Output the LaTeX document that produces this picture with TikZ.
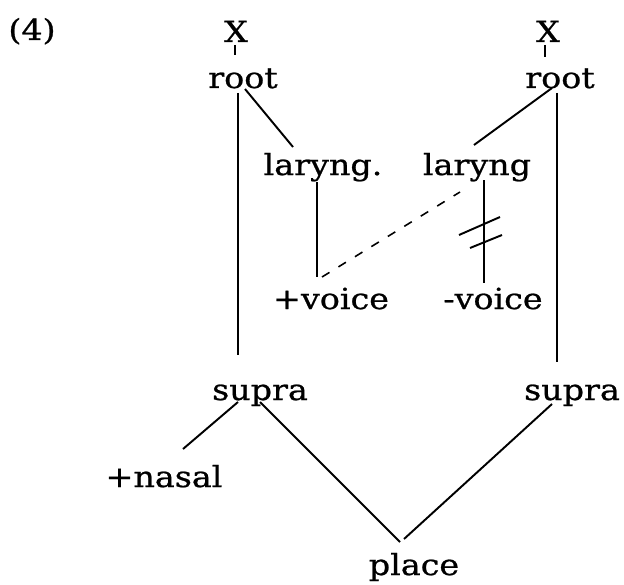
\documentclass[tikz,border=0pt]{standalone}
\usepackage{fontspec}
\setmainfont[FakeStretch=1.15,FakeBold=0.8]{DejaVu Serif}
\usetikzlibrary{calc}

\begin{document}
\begin{tikzpicture}[x=0.02cm, y=-0.02cm, line width=1pt, every node/.style={font=\fontsize{16.5}{20}\selectfont, inner sep=0pt, anchor=base}]
\tikzstyle{assoc}=[line width=1.1pt]
\tikzstyle{spread}=[line width=0.9pt, dash pattern=on 5pt off 6pt]
\useasboundingbox (0,0) rectangle (624,584);
% segments
\node (num) at (32,40) {(4)};
\node (xl) at (236,42) {X};
\node (xr) at (548,42) {X};
\node (rootl) at (243,88) {root};
\node (rootr) at (560,88) {root};
\node (laryl) at (323,175) {laryng.};
\node (laryr) at (477,175) {laryng};
\node (voicep) at (331,309) {+voice};
\node (voicem) at (493,309) {-voice};
\node (supral) at (260,400) {supra};
\node (suprar) at (572,400) {supra};
\node (nasal) at (164,487) {+nasal};
\node (place) at (414,575) {place};

\draw[assoc] ($(xl.base)+(-1,3)$) -- ($(rootl.base)+(-8,-33)$);
\draw[assoc] ($(xr.base)+(-3,3)$) -- ($(rootr.base)+(-15,-31)$);
\draw[assoc] ($(rootl.base)+(-5,5)$) -- ($(supral.base)+(-22,-45)$);
\draw[assoc] ($(rootl.base)+(2,1)$) -- ($(laryl.base)+(-30,-28)$);
\draw[assoc] ($(rootr.base)+(-8,0)$) -- ($(laryr.base)+(-3,-30)$);
\draw[assoc] ($(rootr.base)+(-3,5)$) -- ($(suprar.base)+(-15,-38)$);
\draw[assoc] ($(laryl.base)+(-6,7)$) -- ($(voicep.base)+(-14,-32)$);
\draw[assoc] ($(laryr.base)+(7,5)$) -- ($(voicem.base)+(-9,-26)$);
\draw[spread] ($(voicep.base)+(-9,-32)$) -- ($(laryr.base)+(-17,17)$);
% delinking
\draw[assoc] ($(laryr.base)+(-18,60)$) -- ($(laryr.base)+(23,42)$);
\draw[assoc] ($(laryr.base)+(-7,73)$) -- ($(laryr.base)+(25,60)$);
\draw[assoc] ($(supral.base)+(-22,2)$) -- ($(nasal.base)+(19,-38)$);
\draw[assoc] ($(supral.base)+(0,2)$) -- ($(place.base)+(-14,-33)$);
\draw[assoc] ($(suprar.base)+(-20,4)$) -- ($(place.base)+(-10,-36)$);
\end{tikzpicture}
\end{document}
